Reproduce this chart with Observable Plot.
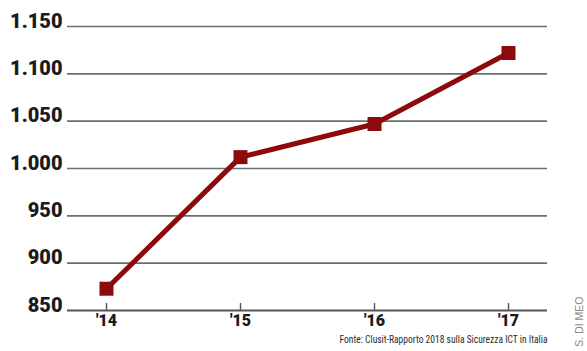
<!DOCTYPE html>
<html>
<head>
<meta charset="utf-8">
<script src="https://cdn.jsdelivr.net/npm/d3@7"></script>
<script src="https://cdn.jsdelivr.net/npm/@observablehq/plot@0.6"></script>
<style>
  html, body { margin: 0; padding: 0; background: #fff; }
  #chart svg { display: block; }
</style>
</head>
<body>
<div id="chart"></div>
<script>
// Attacchi gravi noti, 2014–2017
const years = ["'14", "'15", "'16", "'17"];
const attacks = [873, 1012, 1047, 1122];

const yTicks = [850, 900, 950, 1000, 1050, 1100, 1150];
const yTickLabels = ["850", "900", "950", "1.000", "1.050", "1.100", "1.150"];

const caption = "Fonte: Clusit-Rapporto 2018 sulla Sicurezza ICT in Italia";
const credit = "S. DI MEO";

const data = years.map((year, i) => ({year, value: attacks[i]}));
const ticks = yTicks.map((v, i) => ({v, label: yTickLabels[i]}));

const red = "#8c0a0c";
const grid = "#6e6e6e";
const ink = "#1b1b1b";
const heavy = "Roboto, 'Liberation Sans', Arial, sans-serif";

const chart = Plot.plot({
  width: 587,
  height: 351,
  marginLeft: 67,
  marginRight: 40,
  marginTop: 26,
  marginBottom: 41,
  x: {type: "point", domain: years, padding: 0.287, axis: null},
  y: {domain: [850, 1150], axis: null},
  marks: [
    Plot.ruleY(yTicks.slice(1), {stroke: grid, strokeWidth: 1.6}),
    Plot.ruleY([850], {stroke: "#555", strokeWidth: 1.8}),
    Plot.tickX(years, {x: d => d, stroke: "#555", strokeWidth: 1.4, insetTop: 277}),
    Plot.text(ticks, {
      y: "v", text: "label", frameAnchor: "left", textAnchor: "end",
      lineAnchor: "bottom", dx: -5, dy: 1,
      fontSize: 20, fontWeight: 900, fontFamily: heavy, fill: ink
    }),
    Plot.text(years, {
      x: d => d, text: d => d, frameAnchor: "bottom", dy: 15,
      fontSize: 16, fontWeight: 900, fontFamily: heavy, fill: ink
    }),
    Plot.line(data, {x: "year", y: "value", stroke: red, strokeWidth: 5}),
    Plot.dot(data, {x: "year", y: "value", symbol: "square", r: 7.9, fill: red, stroke: "none"}),
    Plot.text([caption], {
      text: d => d, frameAnchor: "bottom-right", textAnchor: "end", dy: 32,
      fontSize: 11.5, fontFamily: "'Liberation Sans Narrow', 'Roboto Condensed', 'Liberation Sans', sans-serif",
      fill: "#2a2a2a"
    }),
    Plot.text([credit], {
      text: d => d, frameAnchor: "bottom-right", dx: 35, dy: -14, rotate: -90,
      fontSize: 10.5, fontFamily: "'Liberation Sans Narrow', 'Liberation Sans', sans-serif",
      fill: "#8a8a8a"
    })
  ]
});

// squeeze the source line into its condensed width
d3.select(chart).selectAll("text")
  .filter(function() { return this.textContent === caption; })
  .attr("textLength", 208)
  .attr("lengthAdjust", "spacingAndGlyphs");

document.getElementById("chart").appendChild(chart);
</script>
</body>
</html>
